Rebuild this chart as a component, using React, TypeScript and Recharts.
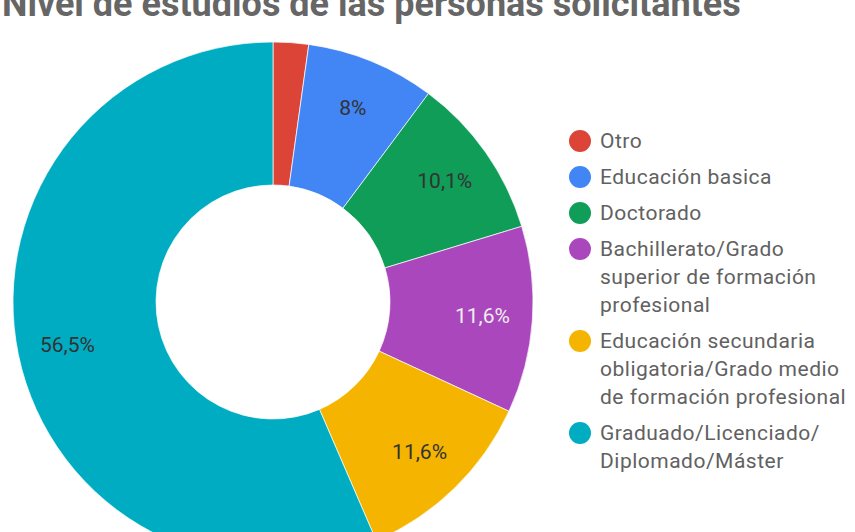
import React from 'react';
import { PieChart, Pie, Cell, Legend } from 'recharts';

const niveles = [
  'Otro',
  'Educación basica',
  'Doctorado',
  'Bachillerato/Grado superior de formación profesional',
  'Educación secundaria obligatoria/Grado medio de formación profesional',
  'Graduado/Licenciado/Diplomado/Máster',
];
const porcentajes = [2.2, 8, 10.1, 11.6, 11.6, 56.5];

const colores = ['#DB4437', '#4285F4', '#0F9D58', '#AB47BC', '#F4B400', '#00ACC1'];
const coloresEtiqueta = ['#333', '#333', '#333', '#eee', '#333', '#333'];

const data = niveles.map((name, i) => ({ name, value: porcentajes[i] }));

const RADIAN = Math.PI / 180;

const renderLabel = (props: any) => {
  const { cx, cy, midAngle, innerRadius, outerRadius, value, index } = props;
  if (value < 5) return null;
  const r = innerRadius + (outerRadius - innerRadius) * 0.65;
  const x = cx + r * Math.cos(-midAngle * RADIAN);
  const y = cy + r * Math.sin(-midAngle * RADIAN);
  return (
    <text
      x={x}
      y={y}
      fill={coloresEtiqueta[index]}
      textAnchor="middle"
      dominantBaseline="central"
      fontFamily="Roboto"
      fontSize={21}
    >
      {`${String(value).replace('.', ',')}%`}
    </text>
  );
};

const LegendContent = () => (
  <ul style={{ listStyle: 'none', margin: 0, padding: 0, width: 300 }}>
    {data.map((d, i) => (
      <li key={d.name} style={{ display: 'flex', alignItems: 'flex-start', marginBottom: 8 }}>
        <span
          style={{
            width: 22,
            height: 22,
            borderRadius: '50%',
            background: colores[i],
            flex: '0 0 22px',
            marginTop: 3,
            marginRight: 9,
          }}
        />
        <span
          style={{
            fontFamily: 'Roboto',
            fontSize: 21,
            lineHeight: '28px',
            color: '#616161',
            letterSpacing: 0.5,
            width: 252,
          }}
        >
          {d.name.replace(/\//g, '/\u200B')}
        </span>
      </li>
    ))}
  </ul>
);

const App = () => {
  return (
    <div style={{ position: 'absolute', left: 0, top: 0, width: 855, height: 532, overflow: 'hidden', background: '#fff' }}>
      <svg width={855} height={40} style={{ position: 'absolute', left: 0, top: 0 }}>
        <text x={2} y={16} fontFamily="Roboto" fontWeight={700} fontSize={36} fill="#666">
          Nivel de estudios de las personas solicitantes
        </text>
      </svg>
      <PieChart width={855} height={532} margin={{ top: 0, right: 0, bottom: 0, left: 0 }}>
        <Pie
          data={data}
          dataKey="value"
          nameKey="name"
          cx={273}
          cy={302}
          innerRadius={117}
          outerRadius={260}
          startAngle={90}
          endAngle={-270}
          stroke="#fff"
          strokeWidth={0.7}
          label={renderLabel}
          labelLine={false}
          isAnimationActive={false}
        >
          {data.map((d, i) => (
            <Cell key={d.name} fill={colores[i]} />
          ))}
        </Pie>
        <Legend
          layout="vertical"
          content={<LegendContent />}
          wrapperStyle={{ position: 'absolute', left: 569, top: 127, width: 300 }}
        />
      </PieChart>
    </div>
  );
};

export default App;
